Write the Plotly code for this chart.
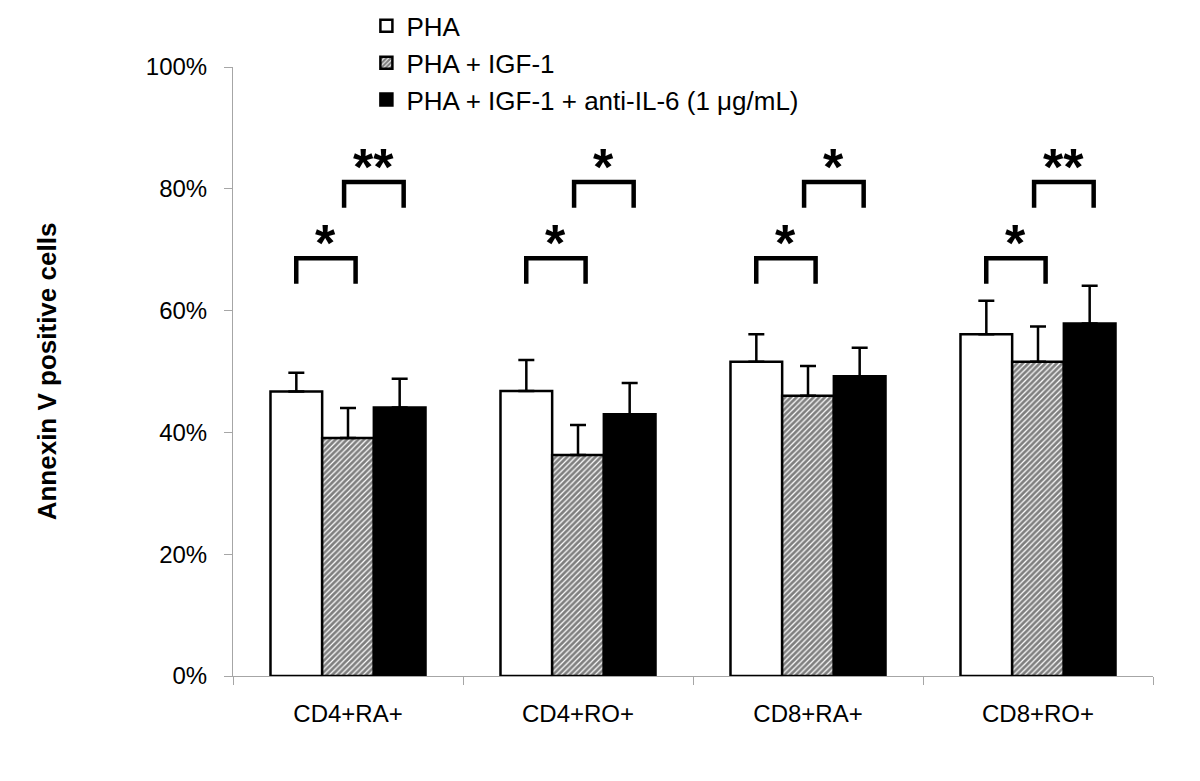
import plotly.graph_objects as go

categories = ["CD4+RA+", "CD4+RO+", "CD8+RA+", "CD8+RO+"]
series_names = ["PHA", "PHA + IGF-1", "PHA + IGF-1 + anti-IL-6 (1 \u03bcg/mL)"]
pha = [0.467, 0.468, 0.516, 0.561]
pha_err = [0.031, 0.051, 0.045, 0.055]
igf = [0.391, 0.363, 0.460, 0.516]
igf_err = [0.049, 0.049, 0.049, 0.058]
anti = [0.441, 0.430, 0.492, 0.579]
anti_err = [0.047, 0.051, 0.047, 0.062]
y_ticks = [0, 0.2, 0.4, 0.6, 0.8, 1.0]

# significance brackets: lower (PHA vs IGF) and upper (IGF vs anti) comparisons
sig_lower = ["*", "*", "*", "*"]
sig_upper = ["**", "*", "*", "**"]
lower_span = (-0.225, 0.033)
upper_span = (-0.017, 0.242)
lower_h = (0.644, 0.686)
upper_h = (0.769, 0.811)

fig = go.Figure()
common = dict(marker_line_color="black", marker_line_width=2.5)
err_style = dict(type="data", symmetric=False, color="black", thickness=2.5, width=8)

fig.add_bar(name=series_names[0], x=categories, y=pha, marker_color="white",
            error_y=dict(array=pha_err, arrayminus=[0]*4, **err_style), **common)
fig.add_bar(name=series_names[1], x=categories, y=igf, marker_color="white",
            marker_pattern=dict(shape="/", fgcolor="black", bgcolor="white", size=4, solidity=0.7),
            error_y=dict(array=igf_err, arrayminus=[0]*4, **err_style), **common)
fig.add_bar(name=series_names[2], x=categories, y=anti, marker_color="black",
            error_y=dict(array=anti_err, arrayminus=[0]*4, **err_style), **common)

shapes = []
annotations = []
for i in range(len(categories)):
    for span, h, lab in ((lower_span, lower_h, sig_lower[i]), (upper_span, upper_h, sig_upper[i])):
        xa, xb = i + span[0], i + span[1]
        shapes.append(dict(type="path", xref="x", yref="y",
                           path=f"M {xa},{h[0]} L {xa},{h[1]} L {xb},{h[1]} L {xb},{h[0]}",
                           line=dict(color="black", width=4.5)))
        annotations.append(dict(x=i + (span[0] + span[1]) / 2, y=h[1], xref="x", yref="y",
                                text=f"<b>{lab}</b>", showarrow=False, yanchor="bottom",
                                yshift=-16, font=dict(size=52, color="black",
                                                      family="Liberation Sans, Arial")))

fig.update_layout(
    width=1200, height=781,
    paper_bgcolor="white", plot_bgcolor="white",
    barmode="group", bargap=0.326, bargroupgap=0,
    margin=dict(l=225, r=55, t=59, b=113, autoexpand=False),
    font=dict(family="Liberation Sans, Arial", color="black"),
    shapes=shapes, annotations=annotations,
    legend=dict(x=0.145, y=1.106, xanchor="left", yanchor="top",
                font=dict(size=26, color="black"), tracegroupgap=0,
                bgcolor="rgba(0,0,0,0)"),
    xaxis=dict(type="category", tickson="boundaries", ticks="outside", ticklen=8,
               tickcolor="#a6a6a6", showline=True, linecolor="#a6a6a6", linewidth=1,
               showgrid=False, tickfont=dict(size=24, color="black"), ticklabelstandoff=16),
    yaxis=dict(range=[0, 1], tickvals=y_ticks, tickformat=".0%", ticks="outside", ticklen=8,
               tickcolor="#a6a6a6", showline=True, linecolor="#a6a6a6", linewidth=1,
               showgrid=False, zeroline=False, tickfont=dict(size=24, color="black"),
               ticklabelstandoff=12,
               title=dict(text="<b>Annexin V positive cells</b>", font=dict(size=26, color="black"),
                          standoff=81)),
)

fig.write_html("out.html")
